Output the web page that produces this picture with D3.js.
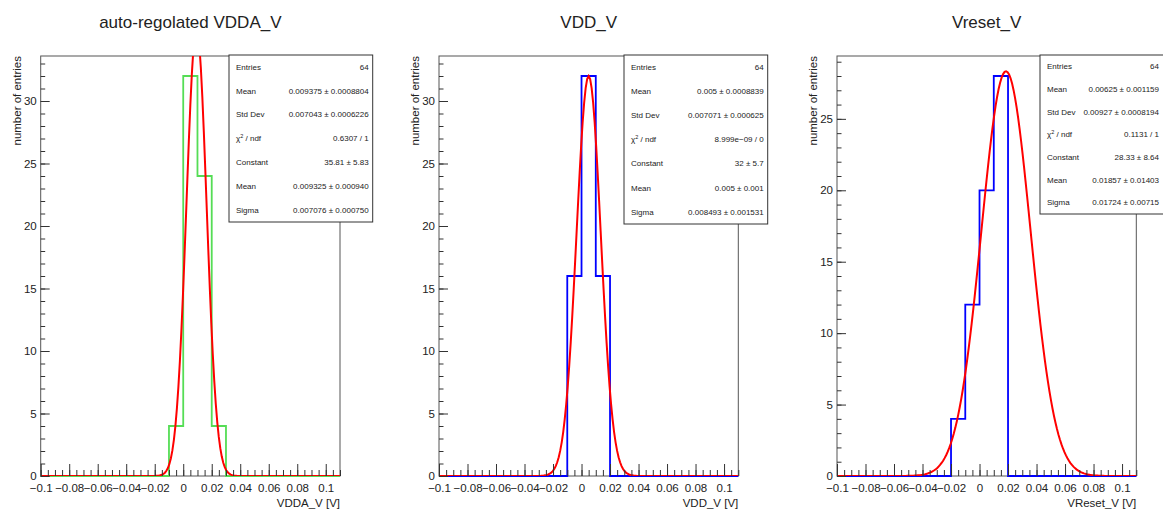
<!DOCTYPE html>
<html>
<head>
<meta charset="utf-8">
<script src="https://cdn.jsdelivr.net/npm/d3@7"></script>
<style>
  body { margin: 0; background: #fff; }
  text { font-family: "Liberation Sans", Arial, Helvetica, sans-serif; fill: #222; }
</style>
</head>
<body>
<svg id="canvas"></svg>
<script>
// ---------------- data ----------------
// lower edges of the 21 bins (width 0.01), histogram ends at 0.11
let binEdges = [-0.1, -0.09, -0.08, -0.07, -0.06, -0.05, -0.04, -0.03, -0.02, -0.01,
                0, 0.01, 0.02, 0.03, 0.04, 0.05, 0.06, 0.07, 0.08, 0.09, 0.1]
let binEnd = 0.11

let vddaCounts   = [0,0,0,0,0,0,0,0,0, 4,32,24, 4, 0,0,0,0,0,0,0,0]
let vddCounts    = [0,0,0,0,0,0,0,0,0,16,32,16, 0, 0,0,0,0,0,0,0,0]
let vresetCounts = [0,0,0,0,0,0,0,0,4,12,20,28, 0, 0,0,0,0,0,0,0,0]

// gaussian fit parameters (Constant, Mean, Sigma)
let fitConstant = [35.81, 32, 28.33]
let fitMean     = [0.009325, 0.005, 0.01857]
let fitSigma    = [0.007076, 0.008493, 0.01724]

let titles  = ['auto-regolated VDDA_V', 'VDD_V', 'Vreset_V']
let xTitles = ['VDDA_V [V]', 'VDD_V [V]', 'VReset_V [V]']
let yMax    = [33.6, 33.6, 29.4]

let xTickValues = [-0.1, -0.08, -0.06, -0.04, -0.02, 0, 0.02, 0.04, 0.06, 0.08, 0.1]
let xTickLabels = ['\u22120.1', '\u22120.08', '\u22120.06', '\u22120.04', '\u22120.02', '0',
                   '0.02', '0.04', '0.06', '0.08', '0.1']
let yTicks12 = [0, 5, 10, 15, 20, 25, 30]
let yTicks3  = [0, 5, 10, 15, 20, 25]

let statLabels = ['Entries', 'Mean', 'Std Dev', 'chi2', 'Constant', 'Mean', 'Sigma']
let statsVdda   = ['64', '0.009375 \u00b1 0.0008804', '0.007043 \u00b1 0.0006226', '0.6307 / 1',
                   '35.81 \u00b1 5.83', '0.009325 \u00b1 0.000940', '0.007076 \u00b1 0.000750']
let statsVdd    = ['64', '0.005 \u00b1 0.0008839', '0.007071 \u00b1 0.000625', '8.999e\u221209 / 0',
                   '32 \u00b1 5.7', '0.005 \u00b1 0.001', '0.008493 \u00b1 0.001531']
let statsVreset = ['64', '0.00625 \u00b1 0.001159', '0.00927 \u00b1 0.0008194', '0.1131 / 1',
                   '28.33 \u00b1 8.64', '0.01857 \u00b1 0.01403', '0.01724 \u00b1 0.00715']

// ---------------- layout ----------------
let width = 1163
let height = 514
let frameTop = 56
let frameBottom = 476
let frameWidth = 299.3
let frameLefts = [40.7, 439, 837]
let boxes = [
    {x0: 229, x1: 372.7, y0: 55, y1: 222},
    {x0: 624, x1: 767.7, y0: 55, y1: 224},
    {x0: 1040, x1: 1166, y0: 55, y1: 214}
]
let histColors = ['#55dd55', '#0000ff', '#0000ff']

let canvas = d3.select('#canvas')
canvas.attr('width', width).attr('height', height)

let panels = [
    {counts: vddaCounts, stats: statsVdda, yTicks: yTicks12},
    {counts: vddCounts, stats: statsVdd, yTicks: yTicks12},
    {counts: vresetCounts, stats: statsVreset, yTicks: yTicks3}
]

let drawPanel = (p, i) => {
    let left = frameLefts[i]
    let right = left + frameWidth

    let xScale = d3.scaleLinear().domain([binEdges[0], binEnd]).range([left, right])
    let yScale = d3.scaleLinear().domain([0, yMax[i]]).range([frameBottom, frameTop])

    let g = canvas.append('g')

    // clip for the fit curve
    g.append('clipPath').attr('id', 'clip' + i)
     .append('rect')
     .attr('x', left).attr('y', frameTop)
     .attr('width', frameWidth).attr('height', frameBottom - frameTop)

    // frame
    g.append('rect')
     .attr('x', left).attr('y', frameTop)
     .attr('width', frameWidth).attr('height', frameBottom - frameTop)
     .attr('fill', 'none').attr('stroke', '#555').attr('stroke-width', 1)

    // histogram outline
    let steps = binEdges.map((e, k) => [e, p.counts[k]])
    steps.push([binEnd, p.counts[p.counts.length - 1]])
    let stepLine = d3.line()
        .x(d => xScale(d[0]))
        .y(d => yScale(d[1]))
        .curve(d3.curveStepAfter)
    g.append('path')
     .attr('d', stepLine(steps))
     .attr('fill', 'none')
     .attr('stroke', histColors[i])
     .attr('stroke-width', 1.8)

    // gaussian fit
    let xs = d3.range(0, 201).map(k => binEdges[0] + (binEnd - binEdges[0]) * k / 200)
    let fitPts = xs.map(x => [x, fitConstant[i] * Math.exp(-0.5 * Math.pow((x - fitMean[i]) / fitSigma[i], 2))])
    let fitLine = d3.line().x(d => xScale(d[0])).y(d => yScale(d[1]))
    g.append('path')
     .attr('d', fitLine(fitPts))
     .attr('clip-path', 'url(#clip' + i + ')')
     .attr('fill', 'none')
     .attr('stroke', '#ff0000')
     .attr('stroke-width', 2)

    // x axis: minor ticks every 0.005, majors every 0.02
    let minorX = d3.range(0, 43).map(k => -0.1 + k * 0.005)
    g.append('g')
     .attr('transform', 'translate(0,' + frameBottom + ')')
     .call(d3.axisBottom(xScale).tickValues(minorX).tickSize(-6).tickFormat(''))
    let xAxis = g.append('g')
     .attr('transform', 'translate(0,' + frameBottom + ')')
     .call(d3.axisBottom(xScale).tickValues(xTickValues).tickSize(-12).tickPadding(8)
        .tickFormat((d, k) => xTickLabels[k]))
    xAxis.selectAll('text').style('font-size', '11.5px').attr('fill', '#222')

    // y axis: minor every 1, majors every 5
    let minorY = d3.range(0, Math.floor(yMax[i]) + 1)
    g.append('g')
     .attr('transform', 'translate(' + left + ',0)')
     .call(d3.axisLeft(yScale).tickValues(minorY).tickSize(-4.5).tickFormat(''))
    let yAxis = g.append('g')
     .attr('transform', 'translate(' + left + ',0)')
     .call(d3.axisLeft(yScale).tickValues(p.yTicks).tickSize(-9).tickPadding(4).tickFormat(d3.format('d')))
    yAxis.selectAll('text').style('font-size', '11.5px').attr('fill', '#222')

    g.selectAll('.domain').remove()
    g.selectAll('.tick line').attr('stroke', '#333')

    // titles
    g.append('text')
     .attr('x', (left + right) / 2).attr('y', 28)
     .attr('text-anchor', 'middle')
     .style('font-size', '17px')
     .text(titles[i])

    g.append('text')
     .attr('x', right).attr('y', 507)
     .attr('text-anchor', 'end')
     .style('font-size', '11.5px')
     .text(xTitles[i])

    g.append('text')
     .attr('transform', 'translate(' + (left - 20) + ',' + frameTop + ') rotate(-90)')
     .attr('text-anchor', 'end')
     .style('font-size', '11.5px')
     .text('number of entries')

    // stats box
    let b = boxes[i]
    g.append('rect')
     .attr('x', b.x0).attr('y', b.y0)
     .attr('width', b.x1 - b.x0).attr('height', b.y1 - b.y0)
     .attr('fill', '#fff').attr('stroke', '#333').attr('stroke-width', 1)

    let rowH = (b.y1 - b.y0) / statLabels.length
    statLabels.forEach((lab, k) => {
        let cy = b.y0 + rowH * (k + 0.5)
        let t = g.append('text')
         .attr('x', b.x0 + 7).attr('y', cy).attr('dy', '0.35em')
         .style('font-size', '8px')
        if (lab === 'chi2') {
            t.append('tspan').text('\u03c7')
            t.append('tspan').attr('baseline-shift', 'super').style('font-size', '5.5px').text('2')
            t.append('tspan').text(' / ndf')
        } else {
            t.text(lab)
        }
        g.append('text')
         .attr('x', Math.min(b.x1, width) - 4).attr('y', cy).attr('dy', '0.35em')
         .attr('text-anchor', 'end')
         .style('font-size', '8px')
         .text(p.stats[k])
    })
}

panels.forEach(drawPanel)
</script>
</body>
</html>
